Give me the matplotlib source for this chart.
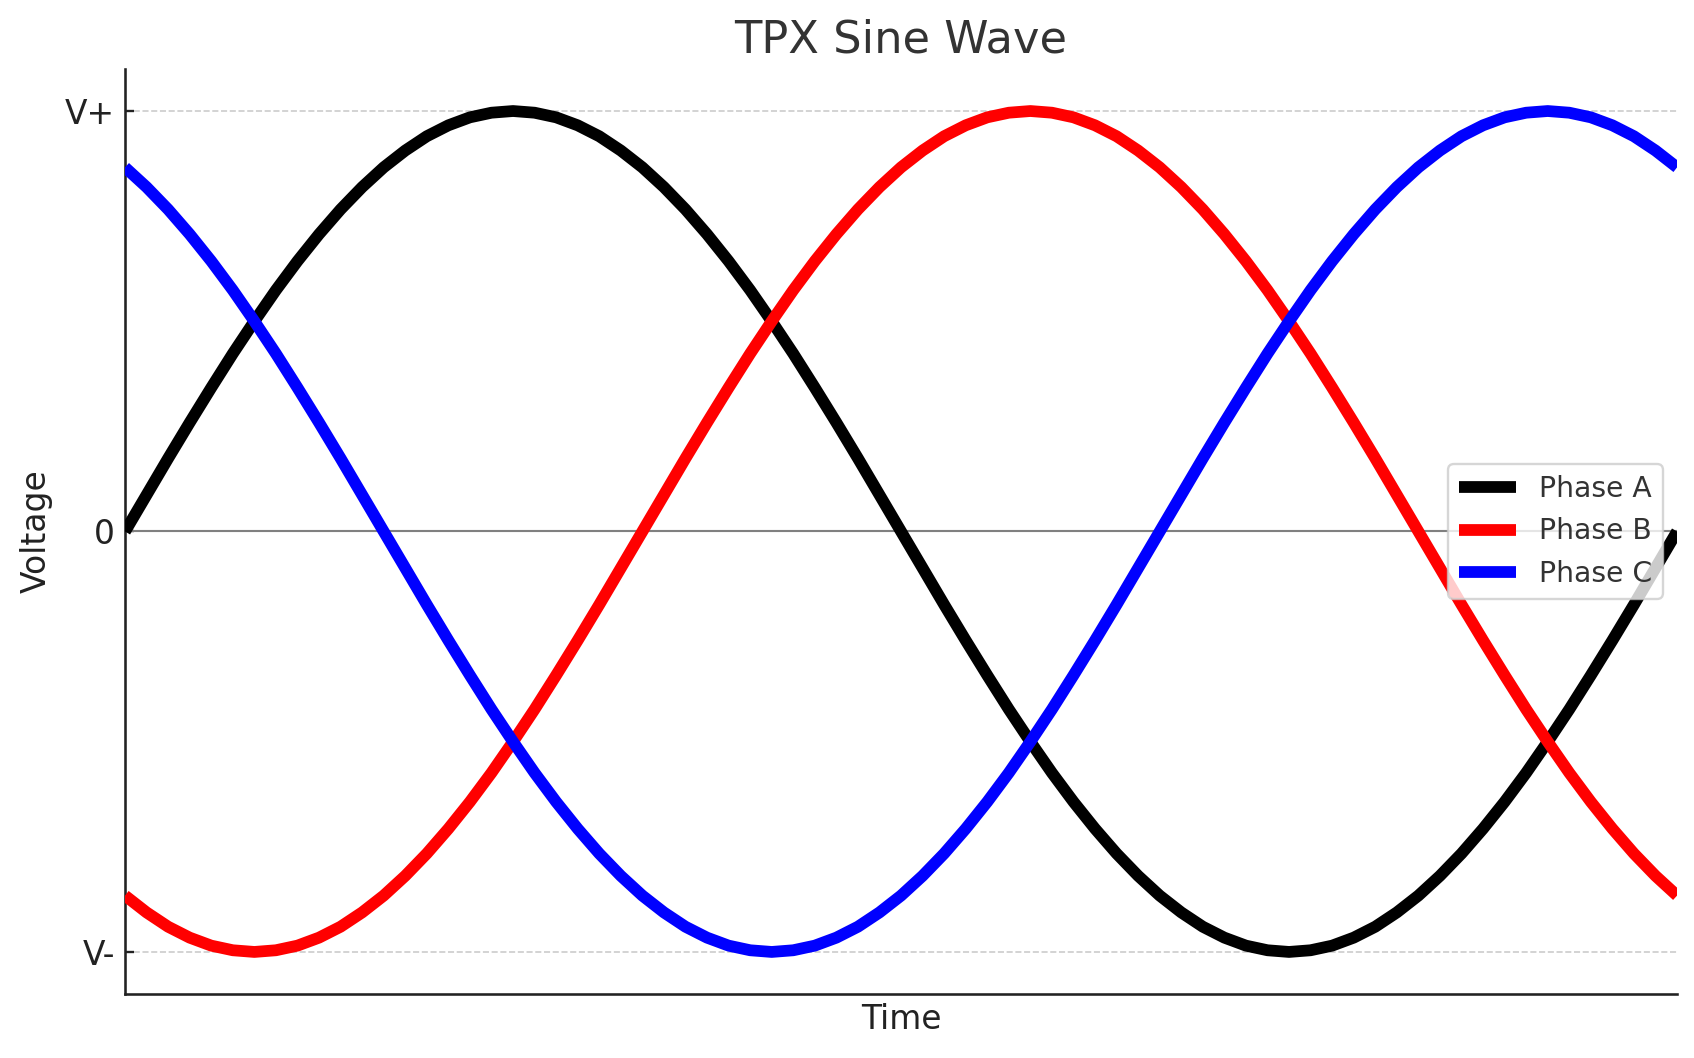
import matplotlib
matplotlib.use("Agg")
import matplotlib.pyplot as plt

# time axis in electrical degrees, one full cycle, 5 degree steps
angle_deg = list(range(0, 361, 5))

# voltages (normalised, V+ = 1, V- = -1)
phase_a = [0.000, 0.087, 0.174, 0.259, 0.342, 0.423, 0.500, 0.574, 0.643, 0.707,
           0.766, 0.819, 0.866, 0.906, 0.940, 0.966, 0.985, 0.996, 1.000,
           0.996, 0.985, 0.966, 0.940, 0.906, 0.866, 0.819, 0.766, 0.707, 0.643,
           0.574, 0.500, 0.423, 0.342, 0.259, 0.174, 0.087, 0.000,
           -0.087, -0.174, -0.259, -0.342, -0.423, -0.500, -0.574, -0.643, -0.707,
           -0.766, -0.819, -0.866, -0.906, -0.940, -0.966, -0.985, -0.996, -1.000,
           -0.996, -0.985, -0.966, -0.940, -0.906, -0.866, -0.819, -0.766, -0.707,
           -0.643, -0.574, -0.500, -0.423, -0.342, -0.259, -0.174, -0.087, 0.000]
phase_b = [-0.866, -0.906, -0.940, -0.966, -0.985, -0.996, -1.000, -0.996, -0.985,
           -0.966, -0.940, -0.906, -0.866, -0.819, -0.766, -0.707, -0.643, -0.574,
           -0.500, -0.423, -0.342, -0.259, -0.174, -0.087,
           0.000, 0.087, 0.174, 0.259, 0.342, 0.423, 0.500, 0.574, 0.643, 0.707,
           0.766, 0.819, 0.866, 0.906, 0.940, 0.966, 0.985, 0.996, 1.000,
           0.996, 0.985, 0.966, 0.940, 0.906, 0.866, 0.819, 0.766, 0.707, 0.643,
           0.574, 0.500, 0.423, 0.342, 0.259, 0.174, 0.087, 0.000,
           -0.087, -0.174, -0.259, -0.342, -0.423, -0.500, -0.574, -0.643, -0.707,
           -0.766, -0.819, -0.866]
phase_c = [0.866, 0.819, 0.766, 0.707, 0.643, 0.574, 0.500, 0.423, 0.342, 0.259,
           0.174, 0.087, 0.000,
           -0.087, -0.174, -0.259, -0.342, -0.423, -0.500, -0.574, -0.643, -0.707,
           -0.766, -0.819, -0.866, -0.906, -0.940, -0.966, -0.985, -0.996, -1.000,
           -0.996, -0.985, -0.966, -0.940, -0.906, -0.866, -0.819, -0.766, -0.707,
           -0.643, -0.574, -0.500, -0.423, -0.342, -0.259, -0.174, -0.087,
           0.000, 0.087, 0.174, 0.259, 0.342, 0.423, 0.500, 0.574, 0.643, 0.707,
           0.766, 0.819, 0.866, 0.906, 0.940, 0.966, 0.985, 0.996, 1.000,
           0.996, 0.985, 0.966, 0.940, 0.906, 0.866]

series_names = ["Phase A", "Phase B", "Phase C"]
series_colors = ["black", "red", "blue"]
ytick_values = [-1, 0, 1]
ytick_labels = ["V-", "0", "V+"]

fig = plt.figure(figsize=(10, 1058 / 169.4), dpi=169.4)
ax = fig.add_axes([0.0738, 0.0605, 0.990 - 0.0738, 0.9348 - 0.0605])

for vals, name, col in zip([phase_a, phase_b, phase_c], series_names, series_colors):
    ax.plot(angle_deg, vals, color=col, lw=5, label=name,
            solid_joinstyle="round", solid_capstyle="butt", zorder=3)

ax.axhline(0, color="gray", lw=0.9, zorder=1)

ax.set_xlim(angle_deg[0], angle_deg[-1])
ax.set_ylim(-1.1, 1.1)
ax.set_xticks([])
ax.set_yticks(ytick_values)
ax.set_yticklabels(ytick_labels)
ax.tick_params(axis="y", direction="in", length=3.8, width=1.0, pad=4.2,
               labelsize=14, colors="#222222")
ax.yaxis.grid(True, linestyle="--", color="#cccccc", lw=0.7)
ax.set_axisbelow(True)

for side in ["top", "right"]:
    ax.spines[side].set_visible(False)
for side in ["left", "bottom"]:
    ax.spines[side].set_color("#222222")
    ax.spines[side].set_linewidth(1.1)

ax.set_title("TPX Sine Wave", fontsize=19, color="#333333", pad=7)
ax.set_xlabel("Time", fontsize=14, color="#222222")
ax.set_ylabel("Voltage", fontsize=14, color="#222222", labelpad=5.3)

leg = ax.legend(loc="center right", fontsize=12, frameon=True)
for t in leg.get_texts():
    t.set_color("#333333")

fig.savefig("out.png", dpi=169.4)
